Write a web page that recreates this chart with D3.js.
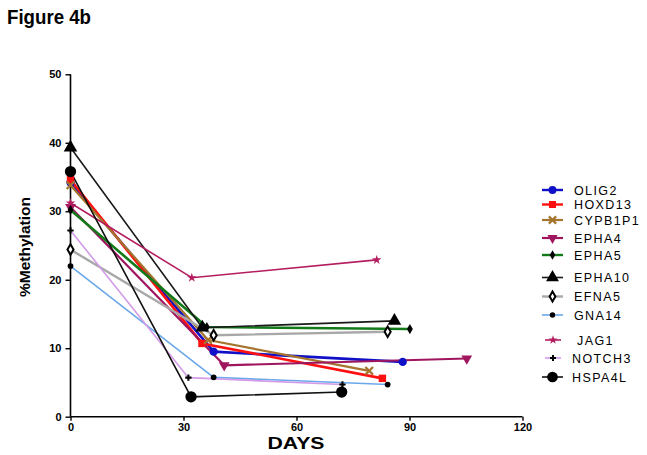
<!DOCTYPE html>
<html>
<head>
<meta charset="utf-8">
<script src="https://cdn.jsdelivr.net/npm/d3@7"></script>
<style>
  html, body { margin: 0; padding: 0; background: #fff; }
  svg { display: block; }
  text { font-family: "Liberation Sans", Arial, sans-serif; }
</style>
</head>
<body>
<svg id="chart" width="647" height="455"></svg>
<script>
// ---- data ----
const seriesNames = ["OLIG2","HOXD13","CYPB1P1","EPHA4","EPHA5","EPHA10","EFNA5","GNA14","JAG1","NOTCH3","HSPA4L"];
const olig2Days   = [0, 38, 88.2];   const olig2Vals   = [34.2, 9.5, 8.0];
const hoxd13Days  = [0, 34.9, 82.8]; const hoxd13Vals  = [34.6, 10.7, 5.6];
const cypb1p1Days = [0, 36.5, 79.3]; const cypb1p1Vals = [33.8, 11.2, 6.7];
const epha4Days   = [0, 40.8, 105.2];const epha4Vals   = [30.6, 7.5, 8.5];
const epha5Days   = [0, 36.2, 90.1]; const epha5Vals   = [30.2, 13.1, 12.8];
const epha10Days  = [0, 35, 86];     const epha10Vals  = [39.3, 13.0, 14.0];
const efna5Days   = [0, 38, 84.2];   const efna5Vals   = [24.4, 11.9, 12.4];
const gna14Days   = [0, 38, 84.2];   const gna14Vals   = [22.0, 5.75, 4.7];
const jag1Days    = [0, 32.2, 81.3]; const jag1Vals    = [31.2, 20.3, 22.9];
const notch3Days  = [0, 31.3, 72.2]; const notch3Vals  = [27.2, 5.7, 4.7];
const hspa4lDays  = [0, 32, 72];     const hspa4lVals  = [35.8, 2.9, 3.6];
const xTicks = [0, 30, 60, 90, 120];
const yTicks = [0, 10, 20, 30, 40, 50];

const seriesDays = [olig2Days, hoxd13Days, cypb1p1Days, epha4Days, epha5Days, epha10Days, efna5Days, gna14Days, jag1Days, notch3Days, hspa4lDays];
const seriesVals = [olig2Vals, hoxd13Vals, cypb1p1Vals, epha4Vals, epha5Vals, epha10Vals, efna5Vals, gna14Vals, jag1Vals, notch3Vals, hspa4lVals];

// ---- styles ----
const styles = {
  OLIG2:   {color:"#1010c8", width:2.6, shape:d3.symbolCircle,  size:55,  fill:"#1010c8", stroke:"none"},
  HOXD13:  {color:"#ff1010", width:2.6, shape:d3.symbolSquare,  size:55,  fill:"#ff1010", stroke:"none"},
  CYPB1P1: {color:"#a5752e", width:2.2, shape:d3.symbolTimes,   size:40,  fill:"none", stroke:"#a5752e", sw:2.2},
  EPHA4:   {color:"#a0165e", width:2.2, shape:d3.symbolTriangle,size:50,  fill:"#a0165e", stroke:"none", rot:180},
  EPHA5:   {color:"#137a1a", width:2.6, shape:d3.symbolDiamond, size:30,  fill:"#000", stroke:"none"},
  EPHA10:  {color:"#1a1a1a", width:1.6, shape:d3.symbolTriangle,size:80,  fill:"#000", stroke:"none"},
  EFNA5:   {color:"#a8a8a8", width:2.4, shape:d3.symbolDiamond, size:32,  fill:"#fff", stroke:"#000", sw:2},
  GNA14:   {color:"#6aa8ea", width:1.6, shape:d3.symbolCircle,  size:26,  fill:"#000", stroke:"none"},
  JAG1:    {color:"#b51d5f", width:1.6, shape:d3.symbolStar,    size:28,  fill:"#b51d5f", stroke:"none"},
  NOTCH3:  {color:"#d39be8", width:1.6, shape:d3.symbolCross,   size:22,  fill:"#000", stroke:"none"},
  HSPA4L:  {color:"#111111", width:1.6, shape:d3.symbolCircle,  size:100, fill:"#000", stroke:"none"}
};

const svg = d3.select("#chart");
const x = d3.scaleLinear().domain([0, 120]).range([70.5, 522.5]);
const y = d3.scaleLinear().domain([0, 50]).range([416.7, 74.3]);

// title
svg.append("text").attr("x", 7).attr("y", 24)
  .attr("font-size", 21).attr("font-weight", "bold")
  .attr("textLength", 84).attr("lengthAdjust", "spacingAndGlyphs")
  .text("Figure 4b");

// axes
const xAxis = d3.axisBottom(x).tickValues(xTicks).tickSize(4).tickPadding(3).tickFormat(d3.format("d"));
const yAxis = d3.axisLeft(y).tickValues(yTicks).tickSize(5).tickPadding(4).tickFormat(d3.format("d"));
const gx = svg.append("g").attr("transform", `translate(0,${y(0)})`).call(xAxis);
const gy = svg.append("g").attr("transform", `translate(${x(0)},0)`).call(yAxis);
[gx, gy].forEach(g => {
  g.select(".domain").attr("stroke", "#000").attr("stroke-width", 1.6);
  g.selectAll(".tick line").attr("stroke", "#000").attr("stroke-width", 1.4);
  g.selectAll(".tick text").attr("fill", "#000").attr("font-size", 11).attr("font-weight", "bold")
    .attr("font-family", "'Liberation Sans', Arial, sans-serif");
});
gx.select(".domain").attr("d", `M${x(0)},0H${x(120)}`);
gy.select(".domain").attr("d", `M0,${y(50)}V${y(0)}`);

// axis titles
svg.append("text").attr("x", 296).attr("y", 449).attr("text-anchor", "middle")
  .attr("font-size", 16).attr("font-weight", "bold")
  .attr("textLength", 57).attr("lengthAdjust", "spacingAndGlyphs")
  .text("DAYS");
svg.append("text").attr("transform", "translate(30,247) rotate(-90)").attr("text-anchor", "middle")
  .attr("font-size", 15).attr("font-weight", "bold")
  .attr("textLength", 100).attr("lengthAdjust", "spacingAndGlyphs")
  .text("%Methylation");

// series
const line = d3.line().x(d => x(d[0])).y(d => y(d[1]));
seriesNames.forEach((name, i) => {
  const st = styles[name];
  const pts = seriesDays[i].map((d, j) => [d, seriesVals[i][j]]);
  svg.append("path").datum(pts).attr("d", line)
    .attr("fill", "none").attr("stroke", st.color).attr("stroke-width", st.width)
    .attr("stroke-linejoin", "round");
});
seriesNames.forEach((name, i) => {
  const st = styles[name];
  const pts = seriesDays[i].map((d, j) => [d, seriesVals[i][j]]);
  const sym = d3.symbol().type(st.shape).size(st.size);
  svg.append("g").selectAll("path").data(pts).join("path")
    .attr("d", sym)
    .attr("transform", d => `translate(${x(d[0])},${y(d[1])}) rotate(${st.rot || 0})`)
    .attr("fill", st.fill).attr("stroke", st.stroke).attr("stroke-width", st.sw || 0);
});

// legend
const legendY = [190, 204.5, 220, 238, 255, 277.5, 296.5, 315, 340, 358, 377];
const leg = svg.append("g");
seriesNames.forEach((name, i) => {
  const st = styles[name];
  const yy = legendY[i];
  const short = (name === "JAG1" || name === "NOTCH3");
  const x0 = short ? 545 : 542, x1 = short ? 561 : 563;
  leg.append("line").attr("x1", x0).attr("x2", x1).attr("y1", yy).attr("y2", yy)
    .attr("stroke", st.color).attr("stroke-width", Math.min(st.width, 2.4));
  const sym = d3.symbol().type(st.shape).size(st.size * 0.9);
  leg.append("path").attr("d", sym)
    .attr("transform", `translate(${(x0 + x1) / 2},${yy}) rotate(${st.rot || 0})`)
    .attr("fill", st.fill).attr("stroke", st.stroke).attr("stroke-width", st.sw || 0);
  const tx = name === "JAG1" ? 577 : (name === "NOTCH3" || name === "HSPA4L") ? 572 : 574;
  leg.append("text").attr("x", tx).attr("y", yy + 4.5)
    .attr("font-size", 12.5).attr("letter-spacing", 1.4)
    .attr("fill", "#000").text(name);
});
</script>
</body>
</html>
